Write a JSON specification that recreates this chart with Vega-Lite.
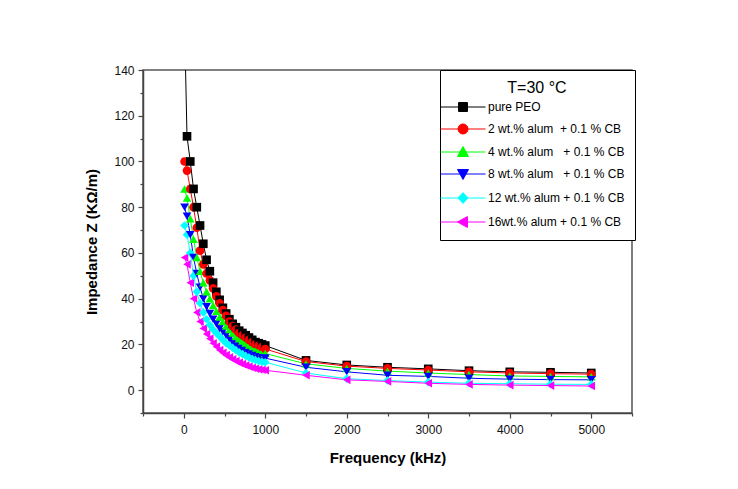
{
  "$schema": "https://vega.github.io/schema/vega-lite/v6.json",
  "width": 489,
  "height": 343,
  "autosize": "none",
  "padding": {"left": 143, "top": 70, "right": 106, "bottom": 76},
  "background": "white",
  "config": {
    "font": "Liberation Sans",
    "view": {"stroke": "#555", "strokeWidth": 1.5},
    "axis": {"domainColor": "#444", "domainWidth": 1.5, "tickColor": "#444", "tickWidth": 1.2, "labelFontSize": 12, "labelColor": "#111", "titleFontSize": 15, "titleFontWeight": "bold", "titleColor": "#000", "grid": false},
    "legend": {
      "orient": "none", "legendX": 297, "legendY": 0,
      "strokeColor": "#000", "fillColor": "white", "padding": 10,
      "titleFontSize": 16, "titleFontWeight": "normal", "titleAnchor": "middle", "titlePadding": 5, "titleColor": "#000",
      "labelFontSize": 12, "labelColor": "#000", "labelLimit": 220,
      "symbolSize": 100, "symbolOffset": 7, "labelOffset": 19, "rowPadding": 8,
      "symbolStrokeWidth": 1
    }
  },
  "datasets": {
    "z": [
      {"f": 10, "p": 160, "a2": 100, "a4": 88, "a8": 80, "a12": 72, "a16": 58},
      {"f": 40, "p": 111, "a2": 96, "a4": 84, "a8": 76, "a12": 68, "a16": 55},
      {"f": 80, "p": 100, "a2": 88, "a4": 75, "a8": 68, "a12": 60, "a16": 47},
      {"f": 120, "p": 88, "a2": 80, "a4": 66, "a8": 58, "a12": 50, "a16": 40},
      {"f": 160, "p": 80, "a2": 71, "a4": 58, "a8": 51, "a12": 43, "a16": 34},
      {"f": 200, "p": 72, "a2": 61, "a4": 52, "a8": 45, "a12": 38, "a16": 30},
      {"f": 240, "p": 64, "a2": 55, "a4": 47, "a8": 40, "a12": 34, "a16": 27},
      {"f": 280, "p": 57, "a2": 51, "a4": 43, "a8": 36.5, "a12": 31, "a16": 24.5},
      {"f": 320, "p": 52, "a2": 48, "a4": 40, "a8": 33.5, "a12": 28.5, "a16": 22.5},
      {"f": 360, "p": 47, "a2": 44.5, "a4": 37, "a8": 31, "a12": 26.5, "a16": 20.5},
      {"f": 400, "p": 43, "a2": 41, "a4": 34.5, "a8": 29, "a12": 25, "a16": 19},
      {"f": 440, "p": 39.5, "a2": 38, "a4": 32, "a8": 27, "a12": 23.5, "a16": 17.5},
      {"f": 480, "p": 36, "a2": 35, "a4": 30, "a8": 25.5, "a12": 22, "a16": 16.3},
      {"f": 520, "p": 33.5, "a2": 32.5, "a4": 28, "a8": 24, "a12": 20.5, "a16": 15.3},
      {"f": 560, "p": 31, "a2": 30, "a4": 26.5, "a8": 22.5, "a12": 19.5, "a16": 14.3},
      {"f": 600, "p": 29, "a2": 28, "a4": 25, "a8": 21, "a12": 18.5, "a16": 13.5},
      {"f": 640, "p": 27.5, "a2": 26.5, "a4": 23.5, "a8": 20, "a12": 17.5, "a16": 12.7},
      {"f": 680, "p": 26, "a2": 25, "a4": 22.5, "a8": 19, "a12": 16.5, "a16": 12},
      {"f": 720, "p": 25, "a2": 24, "a4": 21.5, "a8": 18, "a12": 15.8, "a16": 11.4},
      {"f": 760, "p": 24, "a2": 23, "a4": 20.5, "a8": 17.3, "a12": 15, "a16": 10.8},
      {"f": 800, "p": 23, "a2": 22, "a4": 19.5, "a8": 16.5, "a12": 14.3, "a16": 10.3},
      {"f": 840, "p": 22, "a2": 21, "a4": 18.5, "a8": 15.8, "a12": 13.7, "a16": 9.8},
      {"f": 880, "p": 21, "a2": 20, "a4": 17.8, "a8": 15.2, "a12": 13.2, "a16": 9.4},
      {"f": 920, "p": 20.5, "a2": 19.5, "a4": 17, "a8": 14.6, "a12": 12.7, "a16": 9.1},
      {"f": 960, "p": 20, "a2": 18.8, "a4": 16.5, "a8": 14.2, "a12": 12.4, "a16": 8.9},
      {"f": 1000, "p": 19.5, "a2": 18, "a4": 16, "a8": 14, "a12": 12.2, "a16": 8.7},
      {"f": 1500, "p": 13, "a2": 12.5, "a4": 11.5, "a8": 10, "a12": 7.5, "a16": 6.5},
      {"f": 2000, "p": 11, "a2": 10.5, "a4": 9.5, "a8": 8, "a12": 5, "a16": 4.5},
      {"f": 2500, "p": 10, "a2": 9.5, "a4": 8.3, "a8": 6.5, "a12": 4.2, "a16": 3.8},
      {"f": 3000, "p": 9.3, "a2": 8.8, "a4": 7.5, "a8": 6, "a12": 3.5, "a16": 3},
      {"f": 3500, "p": 8.5, "a2": 8, "a4": 6.8, "a8": 5.2, "a12": 3, "a16": 2.5},
      {"f": 4000, "p": 8, "a2": 7.5, "a4": 6.2, "a8": 4.8, "a12": 2.8, "a16": 2.2},
      {"f": 4500, "p": 7.8, "a2": 7.2, "a4": 6, "a8": 4.6, "a12": 2.6, "a16": 2},
      {"f": 5000, "p": 7.5, "a2": 7, "a4": 5.8, "a8": 4.5, "a12": 2.5, "a16": 1.8}
    ]
  },
  "data": {"name": "z"},
  "transform": [{"fold": ["p", "a2", "a4", "a8", "a12", "a16"], "as": ["s", "zv"]}],
  "encoding": {
    "x": {
      "field": "f", "type": "quantitative",
      "scale": {"domain": [-500, 5500], "nice": false, "zero": false},
      "axis": {
        "title": "Frequency (kHz)", "titlePadding": 15,
        "values": [-500, 0, 500, 1000, 1500, 2000, 2500, 3000, 3500, 4000, 4500, 5000, 5500],
        "labelExpr": "datum.value >= 0 && datum.value % 1000 === 0 ? datum.label : ''",
        "format": "d", "labelPadding": 6,
        "tickSize": {"condition": {"test": "datum.value % 1000 === 0", "value": 5}, "value": 3}
      }
    },
    "y": {
      "field": "zv", "type": "quantitative",
      "scale": {"domain": [-10, 140], "nice": false, "zero": false},
      "axis": {
        "title": "Impedance Z (KΩ/m)", "titlePadding": 14,
        "values": [-10, 0, 10, 20, 30, 40, 50, 60, 70, 80, 90, 100, 110, 120, 130, 140],
        "labelExpr": "datum.value >= 0 && datum.value % 20 === 0 ? datum.label : ''",
        "format": "d", "labelPadding": 4,
        "tickSize": {"condition": {"test": "datum.value % 20 === 0", "value": 5}, "value": 3}
      }
    }
  },
  "layer": [
    {
      "mark": {"type": "line", "strokeWidth": 1, "clip": true},
      "encoding": {
        "order": {"field": "f"},
        "color": {"field": "s", "type": "nominal", "legend": null,
          "scale": {"domain": ["p", "a2", "a4", "a8", "a12", "a16"], "range": ["#000000", "#ff0000", "#00ff00", "#0000ff", "#00ffff", "#ff00ff"]}}
      }
    },
    {
      "mark": {"type": "point", "filled": true, "size": 75, "opacity": 1, "clip": true},
      "encoding": {
        "color": {"field": "s", "type": "nominal", "legend": null},
        "shape": {
          "field": "s", "type": "nominal", "legend": null,
          "scale": {"domain": ["p", "a2", "a4", "a8", "a12", "a16"], "range": ["square", "circle", "triangle-up", "triangle-down", "diamond", "triangle-left"]}
        }
      }
    },
    {
      "mark": {"type": "point", "size": 0, "filled": false, "opacity": 1, "strokeWidth": 1},
      "encoding": {
        "stroke": {"field": "s", "type": "nominal",
          "scale": {"domain": ["p", "a2", "a4", "a8", "a12", "a16"], "range": ["#000000", "#ff0000", "#00ff00", "#0000ff", "#00ffff", "#ff00ff"]},
          "legend": {"title": "T=30 °C", "labelExpr": "datum.value === 'p' ? 'pure PEO' : datum.value === 'a2' ? '2 wt.% alum\u00a0 + 0.1 % CB' : datum.value === 'a4' ? '4 wt.% alum\u00a0\u00a0 + 0.1 % CB' : datum.value === 'a8' ? '8 wt.% alum\u00a0\u00a0 + 0.1 % CB' : datum.value === 'a12' ? '12 wt.% alum + 0.1 % CB' : '16wt.% alum + 0.1 % CB'"}},
        "shape": {"field": "s", "type": "nominal",
          "scale": {"domain": ["p", "a2", "a4", "a8", "a12", "a16"], "range": [
            "M-4.5,0H4.5M-0.9,-0.9H0.9V0.9H-0.9ZM-0.9,-0.7H0.9M-0.9,-0.5H0.9M-0.9,-0.3H0.9M-0.9,-0.1H0.9M-0.9,0.1H0.9M-0.9,0.3H0.9M-0.9,0.5H0.9M-0.9,0.7H0.9",
            "M-4.5,0H4.5M-1,0A1,1 0 1,0 1,0A1,1 0 1,0 -1,0ZM-0.995,-0.1H0.995M-0.995,0.1H0.995M-0.954,-0.3H0.954M-0.954,0.3H0.954M-0.866,-0.5H0.866M-0.866,0.5H0.866M-0.714,-0.7H0.714M-0.714,0.7H0.714M-0.436,-0.9H0.436M-0.436,0.9H0.436",
            "M-4.5,0H4.5M0,-1.1L1.1,0.9L-1.1,0.9ZM-0.11,-0.9H0.11M-0.22,-0.7H0.22M-0.33,-0.5H0.33M-0.44,-0.3H0.44M-0.55,-0.1H0.55M-0.66,0.1H0.66M-0.77,0.3H0.77M-0.88,0.5H0.88M-0.99,0.7H0.99",
            "M-4.5,0H4.5M0,1.1L1.1,-0.9L-1.1,-0.9ZM-0.11,0.9H0.11M-0.22,0.7H0.22M-0.33,0.5H0.33M-0.44,0.3H0.44M-0.55,0.1H0.55M-0.66,-0.1H0.66M-0.77,-0.3H0.77M-0.88,-0.5H0.88M-0.99,-0.7H0.99",
            "M-4.5,0H4.5M0,-1.1L1,0L0,1.1L-1,0ZM-0.909,-0.1H0.909M-0.909,0.1H0.909M-0.727,-0.3H0.727M-0.727,0.3H0.727M-0.545,-0.5H0.545M-0.545,0.5H0.545M-0.364,-0.7H0.364M-0.364,0.7H0.364M-0.182,-0.9H0.182M-0.182,0.9H0.182",
            "M-4.5,0H4.5M-1.1,0L0.9,-1.1L0.9,1.1ZM-0.9,-0.11V0.11M-0.7,-0.22V0.22M-0.5,-0.33V0.33M-0.3,-0.44V0.44M-0.1,-0.55V0.55M0.1,-0.66V0.66M0.3,-0.77V0.77M0.5,-0.88V0.88M0.7,-0.99V0.99"
          ]},
          "legend": {"title": "T=30 °C", "labelExpr": "datum.value === 'p' ? 'pure PEO' : datum.value === 'a2' ? '2 wt.% alum\u00a0 + 0.1 % CB' : datum.value === 'a4' ? '4 wt.% alum\u00a0\u00a0 + 0.1 % CB' : datum.value === 'a8' ? '8 wt.% alum\u00a0\u00a0 + 0.1 % CB' : datum.value === 'a12' ? '12 wt.% alum + 0.1 % CB' : '16wt.% alum + 0.1 % CB'"}}
      }
    }
  ],
  "resolve": {"scale": {"shape": "independent", "stroke": "independent"}}
}
